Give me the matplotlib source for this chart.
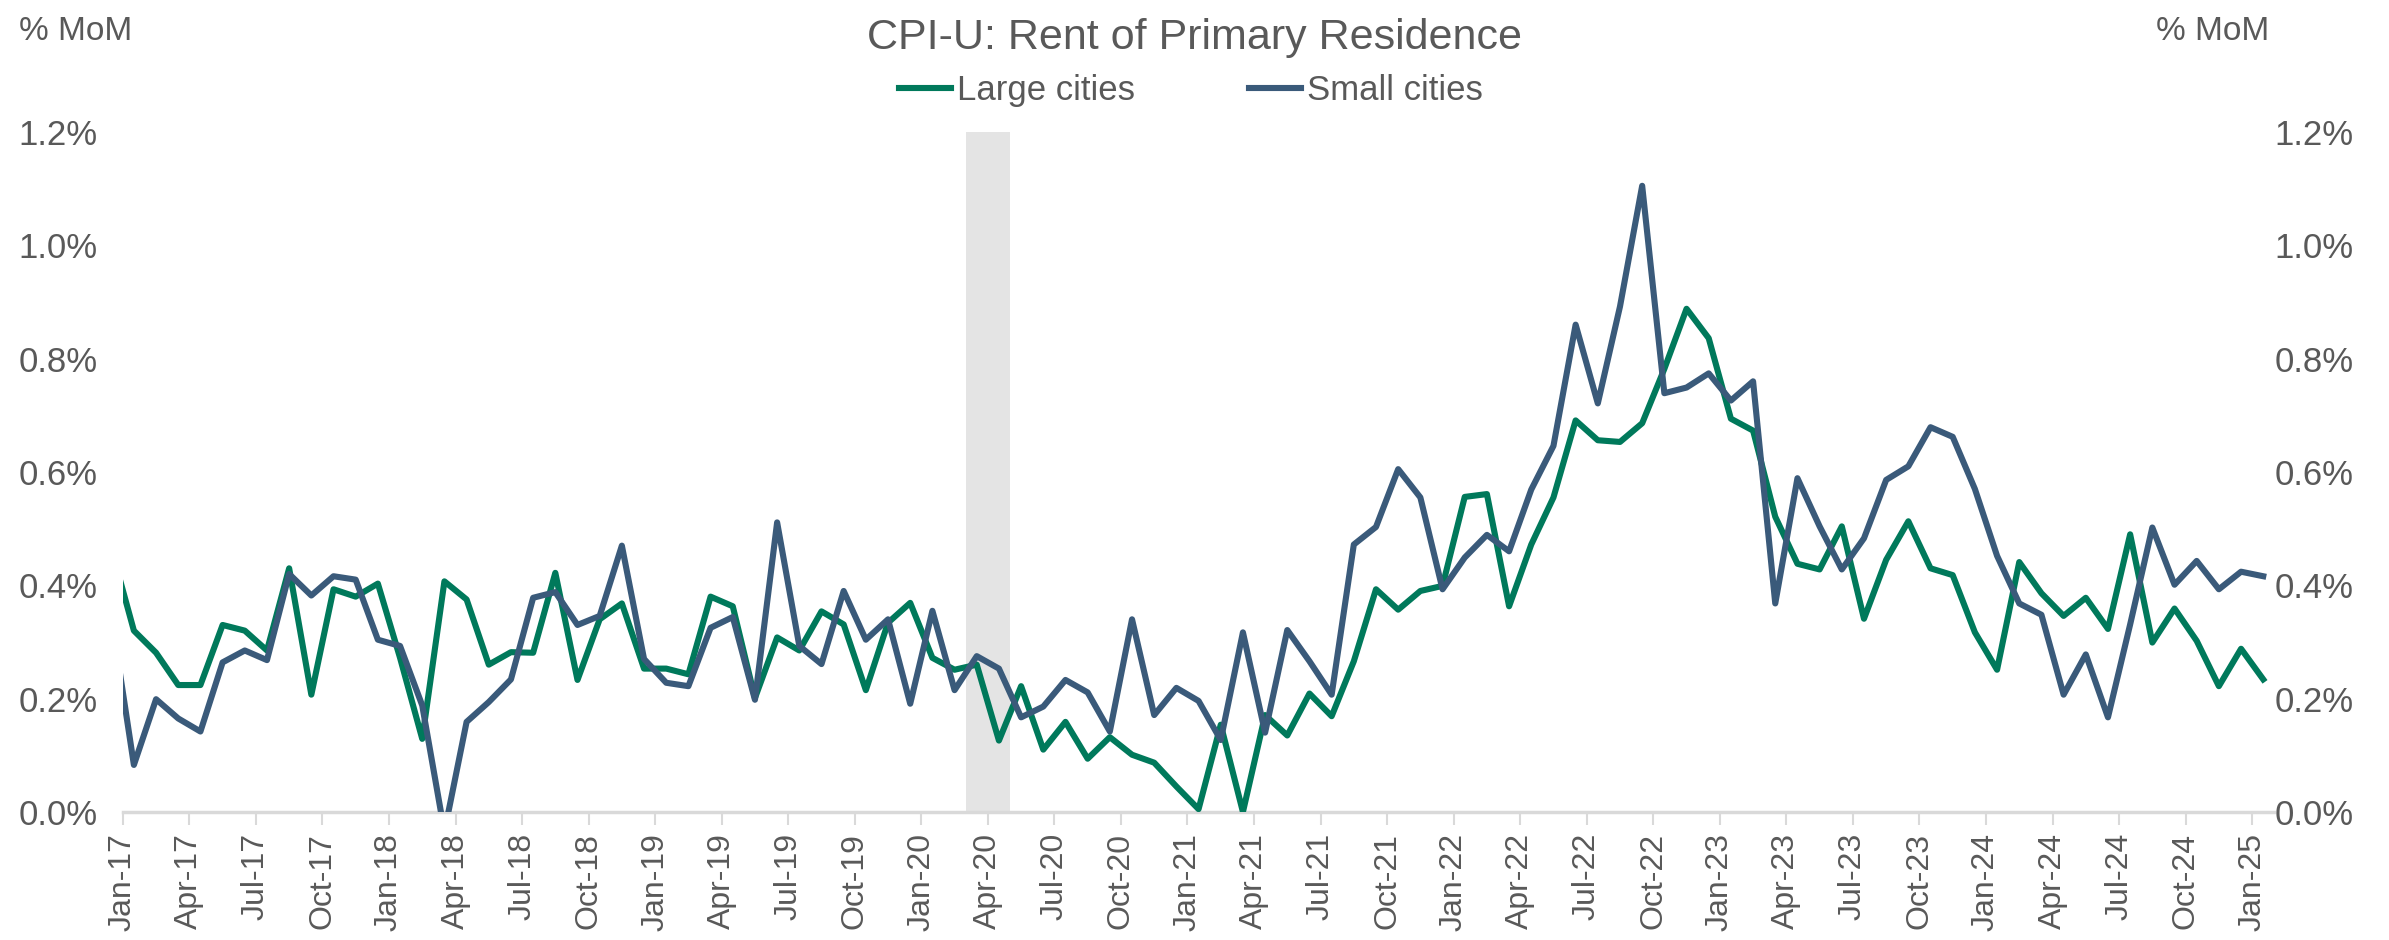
import matplotlib
matplotlib.use("Agg")
import matplotlib.pyplot as plt
import numpy as np

# Monthly % MoM, Dec-16 through Jan-25 (Dec-16 only feeds the line into the left edge)
large_cities = [
    0.463,
    0.320, 0.281, 0.224, 0.224, 0.330, 0.320, 0.285, 0.430, 0.207, 0.393, 0.380, 0.403,
    0.272, 0.129, 0.407, 0.375, 0.260, 0.282, 0.281, 0.422, 0.233, 0.340, 0.368, 0.253,
    0.253, 0.243, 0.380, 0.363, 0.201, 0.308, 0.285, 0.354, 0.331, 0.215, 0.334, 0.369,
    0.272, 0.251, 0.260, 0.126, 0.222, 0.110, 0.159, 0.094, 0.132, 0.101, 0.087, 0.045,
    0.005, 0.154, 0.000, 0.171, 0.135, 0.209, 0.169, 0.266, 0.393, 0.357, 0.390, 0.399,
    0.556, 0.561, 0.363, 0.472, 0.555, 0.691, 0.656, 0.653, 0.686, 0.782, 0.888, 0.836,
    0.694, 0.673, 0.521, 0.438, 0.428, 0.504, 0.341, 0.445, 0.513, 0.430, 0.418, 0.317,
    0.251, 0.441, 0.386, 0.346, 0.378, 0.323, 0.490, 0.299, 0.359, 0.302, 0.222, 0.288,
    0.234,
]
small_cities = [
    0.341,
    0.083, 0.199, 0.165, 0.142, 0.264, 0.285, 0.268, 0.420, 0.382, 0.416, 0.410, 0.304,
    0.293, 0.188, -0.035, 0.159, 0.194, 0.234, 0.378, 0.388, 0.330, 0.346, 0.470, 0.270,
    0.228, 0.222, 0.325, 0.344, 0.198, 0.511, 0.293, 0.261, 0.390, 0.304, 0.340, 0.191,
    0.355, 0.215, 0.275, 0.253, 0.167, 0.186, 0.233, 0.211, 0.142, 0.340, 0.171, 0.219,
    0.196, 0.127, 0.317, 0.140, 0.321, 0.266, 0.207, 0.472, 0.503, 0.605, 0.555, 0.393,
    0.449, 0.489, 0.460, 0.569, 0.646, 0.860, 0.721, 0.892, 1.105, 0.739, 0.749, 0.774,
    0.726, 0.760, 0.368, 0.589, 0.504, 0.428, 0.483, 0.586, 0.610, 0.679, 0.662, 0.570,
    0.452, 0.368, 0.348, 0.207, 0.278, 0.167, 0.331, 0.502, 0.401, 0.443, 0.393, 0.424,
    0.416,
]
month_names = ["Jan", "Apr", "Jul", "Oct"]
years = list(range(17, 26))
tick_labels = [f"{m}-{y}" for y in years for m in month_names][:33]

recession = (38, 40)  # Mar-20 to May-20 on the month axis

GREEN = "#00795B"
BLUE = "#3A5A7A"
GREY = "#595959"

plt.rcParams["font.family"] = ["Liberation Sans", "DejaVu Sans"]

fig = plt.figure(figsize=(23.89, 9.40), dpi=100)
ax = fig.add_axes([0.0514, 0.1362, 0.9006, 0.7234])

# month m is plotted in the middle of its slot, starting at Dec-16 (m = -1)
x = np.arange(len(large_cities)) - 1 + 0.5

ax.axvspan(*recession, color="#E4E4E4", lw=0, zorder=0)
ax.plot(x, large_cities, color=GREEN, lw=4.4, label="Large cities", zorder=3)
ax.plot(x, small_cities, color=BLUE, lw=4.4, label="Small cities", zorder=3)

ax.set_xlim(0, 97)
ax.set_ylim(0, 1.2)
ax.set_xticks(np.arange(0, 97, 3))
ax.set_xticklabels(tick_labels, rotation=90, fontsize=23, color=GREY)
ax.tick_params(axis="x", length=9, width=1.5, color="#D9D9D9", pad=6)

yticks = np.arange(0, 1.21, 0.2)
ylabels = [f"{v:.1f}%" for v in yticks]
ax.set_yticks(yticks)
ax.set_yticklabels(ylabels, fontsize=25, color=GREY)
ax.tick_params(axis="y", length=0, pad=18)

for s in ["top", "right", "left"]:
    ax.spines[s].set_visible(False)
ax.spines["bottom"].set_color("#D9D9D9")
ax.spines["bottom"].set_linewidth(2.5)

ax2 = ax.twinx()
ax2.set_ylim(0, 1.2)
ax2.set_yticks(yticks)
ax2.set_yticklabels(ylabels, fontsize=25, color=GREY)
ax2.tick_params(axis="y", length=0, pad=0)
for s in ax2.spines.values():
    s.set_visible(False)

fig.text(0.5, 0.960, "CPI-U: Rent of Primary Residence", ha="center", va="center",
         fontsize=31, color=GREY)
fig.text(0.008, 0.967, "% MoM", ha="left", va="center", fontsize=24, color=GREY)
fig.text(0.950, 0.967, "% MoM", ha="right", va="center", fontsize=24, color=GREY)

fig.legend(loc="center", bbox_to_anchor=(0.4985, 0.904), ncol=2, frameon=False,
           fontsize=25, labelcolor=GREY, handlelength=1.5, handletextpad=0.15,
           columnspacing=3.3)

fig.savefig("out.png", dpi=100)
